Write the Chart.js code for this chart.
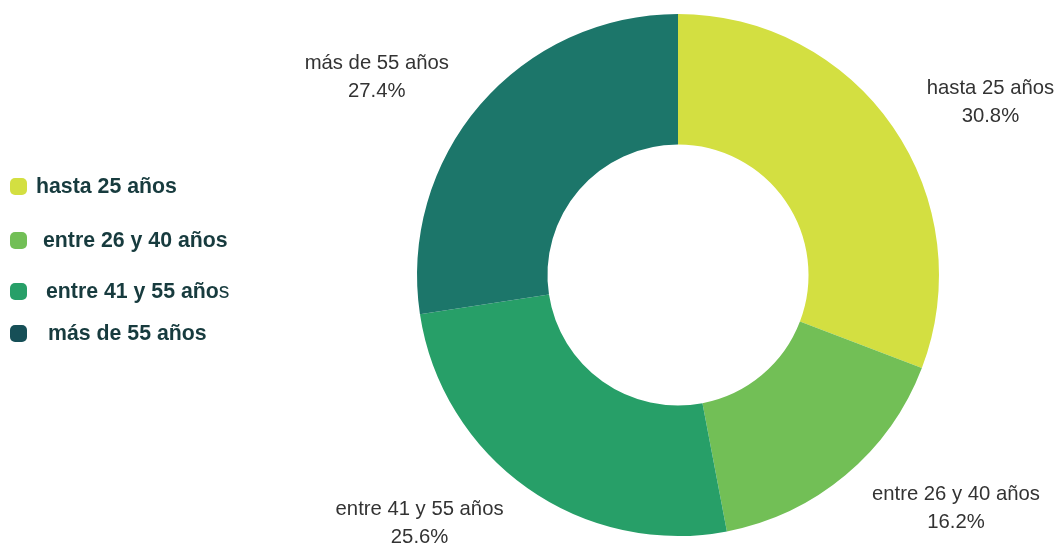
<!DOCTYPE html>
<html lang="es">
<head>
<meta charset="utf-8">
<title>Distribución por edad</title>
<script src="https://cdn.jsdelivr.net/npm/chart.js@4/dist/chart.umd.min.js"></script>
<style>
  html, body { margin: 0; padding: 0; background: #ffffff; }
  #wrap { position: relative; width: 1060px; height: 545px; overflow: hidden; }
  #chart { position: absolute; left: 0; top: 0; }
  .legend-item { position: absolute; left: 10px; height: 20px; display: flex; align-items: center;
    font-family: "Liberation Sans", Arial, sans-serif; font-weight: bold; font-size: 21.3px;
    color: #173b3e; white-space: nowrap; }
  .legend-item .box { width: 17px; height: 17px; border-radius: 5px; flex: none; }
  .legend-item .plain { font-weight: normal; }
</style>
</head>
<body>
<div id="wrap">
  <canvas id="chart" width="1060" height="545"></canvas>
</div>
<script>
// Age groups and their share of the total (%)
const categories = ['hasta 25 años', 'entre 26 y 40 años', 'entre 41 y 55 años', 'más de 55 años'];
const shares = [30.8, 16.2, 25.6, 27.4];
const sliceColors = ['#d3df41', '#72bf56', '#279f68', '#1c766a'];
const legendColors = ['#d3df41', '#72bf56', '#279f68', '#164f57'];

// Legend layout (left column)
const legendTop = [176, 230, 281, 323];
const legendIndent = [0, 7, 10, 12];
const legendPlainTail = [0, 0, 1, 0];

// Build the legend
const wrap = document.getElementById('wrap');
categories.forEach((name, i) => {
  const item = document.createElement('div');
  item.className = 'legend-item';
  item.style.top = legendTop[i] + 'px';
  const box = document.createElement('span');
  box.className = 'box';
  box.style.background = legendColors[i];
  item.appendChild(box);
  const label = document.createElement('span');
  label.style.marginLeft = (9 + legendIndent[i]) + 'px';
  if (legendPlainTail[i]) {
    const head = document.createTextNode(name.slice(0, -legendPlainTail[i]));
    const tail = document.createElement('span');
    tail.className = 'plain';
    tail.textContent = name.slice(-legendPlainTail[i]);
    label.appendChild(head);
    label.appendChild(tail);
  } else {
    label.textContent = name;
  }
  item.appendChild(label);
  wrap.appendChild(item);
});

// Outside labels: name + percentage, anchored beyond each slice's mid-angle
const outsideLabels = {
  id: 'outsideLabels',
  afterDraw(chart) {
    const ctx = chart.ctx;
    const meta = chart.getDatasetMeta(0);
    ctx.save();
    ctx.font = '20.3px "Liberation Sans", Arial, sans-serif';
    ctx.fillStyle = '#333333';
    ctx.textBaseline = 'middle';
    ctx.textAlign = 'center';
    meta.data.forEach((arc, i) => {
      const p = arc.getProps(['x', 'y', 'startAngle', 'endAngle', 'outerRadius'], true);
      const mid = (p.startAngle + p.endAngle) / 2;
      const d = p.outerRadius + 41;
      const ax = p.x + Math.cos(mid) * d;
      const ay = p.y + Math.sin(mid) * d;
      const lines = [categories[i], shares[i].toFixed(1) + '%'];
      const w = Math.max(...lines.map(t => ctx.measureText(t).width));
      const cx = Math.cos(mid) >= 0 ? ax + w / 2 : ax - w / 2;
      const shift = Math.sin(mid) >= 0 ? 2 : -1;
      ctx.fillText(lines[0], cx, ay - 14 + shift);
      ctx.fillText(lines[1], cx, ay + 14 + shift);
    });
    ctx.restore();
  }
};

new Chart(document.getElementById('chart'), {
  type: 'doughnut',
  data: {
    labels: categories,
    datasets: [{
      data: shares,
      backgroundColor: sliceColors,
      borderWidth: 0,
      hoverOffset: 0
    }]
  },
  options: {
    responsive: false,
    animation: false,
    cutout: '50%',
    layout: { padding: { left: 417, right: 121, top: 14, bottom: 9 } },
    plugins: {
      legend: { display: false },
      tooltip: { enabled: false }
    }
  },
  plugins: [outsideLabels]
});
</script>
</body>
</html>
